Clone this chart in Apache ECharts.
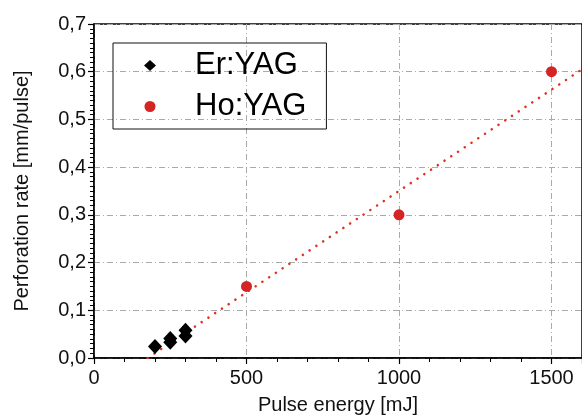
<!DOCTYPE html>
<html>
<head>
    <meta charset="utf-8" />
    <title></title>
    <style>
        html, body { margin: 0; padding: 0; background: #fff; }
        #chart { width: 582px; height: 420px; }
    </style>
    <script src="https://cdn.jsdelivr.net/npm/echarts@6/dist/echarts.min.js"></script>
</head>
<body>
    <div id="chart"></div>
    <script>
        // Er:YAG measurements [pulse energy mJ, perforation rate mm/pulse]
        var erYag = [[200, 0.024], [250, 0.033], [250, 0.041], [300, 0.046], [300, 0.058]];
        // Ho:YAG measurements
        var hoYag = [[500, 0.15], [1000, 0.30], [1500, 0.60]];
        // dotted linear fit, end points
        var fitLine = [[176, 0], [1600, 0.605]];

        var chart = echarts.init(document.getElementById('chart'));
        var font = "'Liberation Sans', Arial, sans-serif";

        var option = {
            animation: false,
            grid: {
                left: 94, top: 24, right: -2, bottom: 59,
                show: true, borderColor: '#000', borderWidth: 1.5
            },
            legend: {
                orient: 'vertical',
                left: 113, top: 43,
                borderColor: '#111', borderWidth: 1,
                padding: [7, 20, 7, 31],
                itemGap: 10,
                itemWidth: 12, itemHeight: 11,
                textStyle: { fontSize: 31, fontFamily: font, color: '#000', padding: [0, 0, 0, 34] },
                data: ['Er:YAG', 'Ho:YAG']
            },
            xAxis: {
                type: 'value',
                min: 0, max: 1600, interval: 500,
                name: 'Pulse energy [mJ]',
                nameLocation: 'middle',
                nameGap: 37,
                nameTextStyle: { fontSize: 20, fontFamily: font, color: '#111' },
                axisLine: { onZero: false, lineStyle: { color: '#000', width: 1.5 } },
                axisTick: { length: 6, lineStyle: { color: '#000', width: 1.2 } },
                minorTick: { show: true, splitNumber: 5, length: 4, lineStyle: { color: '#000' } },
                axisLabel: {
                    fontSize: 20, fontFamily: font, color: '#111', margin: 10, showMaxLabel: false,
                    formatter: function (v) { return String(v); }
                },
                splitLine: { show: true, lineStyle: { color: '#aaa', width: 1, type: [6, 3, 1, 3] } }
            },
            yAxis: {
                type: 'value',
                min: 0, max: 0.7, interval: 0.1,
                name: 'Perforation rate [mm/pulse]',
                nameLocation: 'middle',
                nameGap: 62,
                nameTextStyle: { fontSize: 20, fontFamily: font, color: '#111' },
                axisLine: { show: true, lineStyle: { color: '#000', width: 1.5 } },
                axisTick: { length: 6, lineStyle: { color: '#000', width: 1.2 } },
                minorTick: { show: true, splitNumber: 10, length: 4, lineStyle: { color: '#000' } },
                axisLabel: {
                    fontSize: 20, fontFamily: font, color: '#111', margin: 8,
                    formatter: function (v) { return v.toFixed(1).replace('.', ','); }
                },
                splitLine: { show: true, lineStyle: { color: '#aaa', width: 1, type: [6, 3, 1, 3] } }
            },
            series: [
                {
                    name: 'fit',
                    type: 'line',
                    data: fitLine,
                    symbol: 'none',
                    silent: true,
                    lineStyle: { color: '#e0301e', width: 2.5, type: [0.1, 8], cap: 'round' },
                    z: 1
                },
                {
                    name: 'Er:YAG',
                    type: 'scatter',
                    data: erYag,
                    symbol: 'diamond',
                    symbolSize: [14, 15],
                    itemStyle: { color: '#000', opacity: 1 },
                    z: 3
                },
                {
                    name: 'Ho:YAG',
                    type: 'scatter',
                    data: hoYag,
                    symbol: 'circle',
                    symbolSize: 11,
                    itemStyle: { color: '#d42424', opacity: 1 },
                    z: 3
                }
            ]
        };
        chart.setOption(option);
    </script>
</body>
</html>
